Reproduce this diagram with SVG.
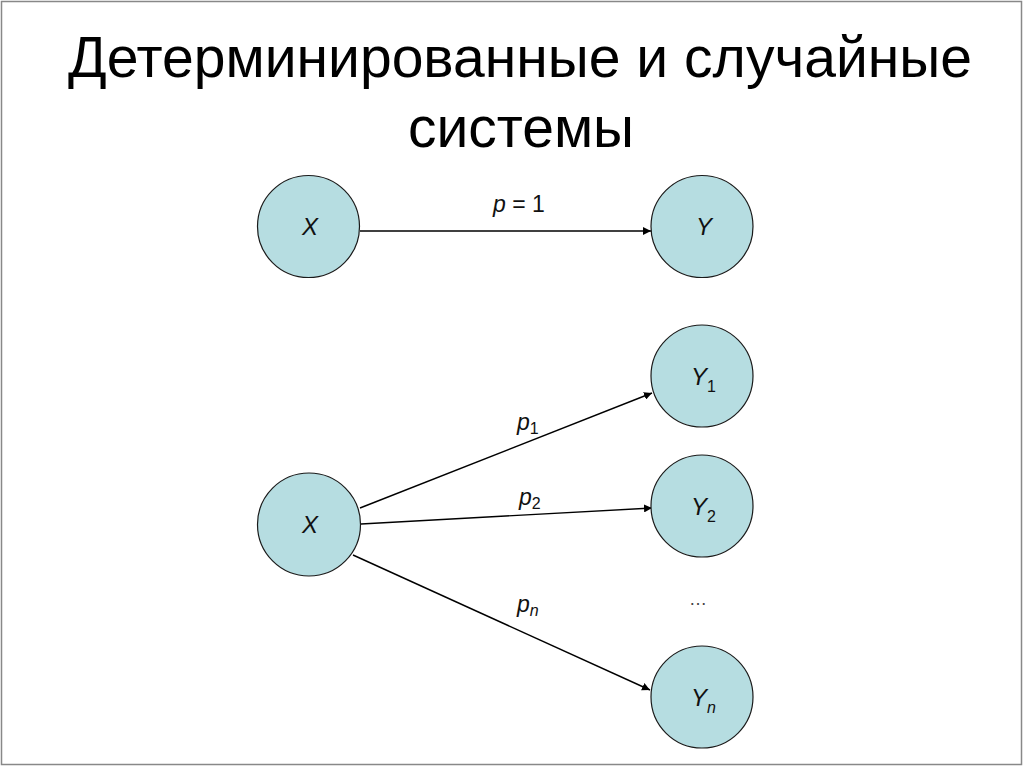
<svg xmlns="http://www.w3.org/2000/svg" width="1024" height="768" viewBox="0 0 1024 768">
<style>
.node{fill:#b6dde1;stroke:#1a1a1a;stroke-width:1.2}
.lbl{font-family:"Liberation Sans",Arial,sans-serif;font-style:italic;font-size:24px;fill:#111}
.sub{font-family:"Liberation Sans",Arial,sans-serif;font-size:16px;fill:#111}
.el{font-family:"Liberation Sans",Arial,sans-serif;font-size:23px;fill:#111}
.title{font-family:"Liberation Sans",Arial,sans-serif;font-size:57px;fill:#000}
.edge{stroke:#000;stroke-width:1.4;fill:none;marker-end:url(#ah)}
</style>
<defs>
<marker id="ah" viewBox="0 0 10 10" refX="10" refY="5" markerWidth="8" markerHeight="8" markerUnits="userSpaceOnUse" orient="auto">
<path d="M0,0 L10,5 L0,10 z" fill="#000"/>
</marker>
</defs>
<rect x="0" y="0" width="1024" height="768" fill="#fff"/>
<rect x="1.5" y="1.5" width="1020" height="763" fill="none" stroke="#888" stroke-width="1.5"/>
<g id="title">
<text class="title" x="68" y="77" textLength="904" lengthAdjust="spacingAndGlyphs">Детерминированные и случайные</text>
<text class="title" x="521" y="147" text-anchor="middle">системы</text>
</g>
<g id="connectors">
<line class="edge" x1="360" y1="231" x2="651" y2="231"/>
<line class="edge" x1="360" y1="508" x2="652" y2="393"/>
<line class="edge" x1="361" y1="524" x2="652" y2="508"/>
<line class="edge" x1="353" y1="555" x2="650" y2="690"/>
<text class="el" x="493" y="212"><tspan font-style="italic">p</tspan> = 1</text>
<text class="el" x="517" y="430"><tspan font-style="italic">p</tspan><tspan class="sub" dy="4">1</tspan></text>
<text class="el" x="519" y="505"><tspan font-style="italic">p</tspan><tspan class="sub" dy="4">2</tspan></text>
<text class="el" x="517" y="612"><tspan font-style="italic">p</tspan><tspan class="sub" font-style="italic" dy="4">n</tspan></text>
<text x="698" y="605" text-anchor="middle" font-family="Liberation Sans,Arial,sans-serif" font-size="18" fill="#444">…</text>
</g>
<g id="node-x-top">
<circle class="node" cx="308.5" cy="226.5" r="51"/>
<text class="lbl" x="310" y="235" text-anchor="middle">X</text>
</g>
<g id="node-y-top">
<circle class="node" cx="702" cy="226.5" r="51"/>
<text class="lbl" x="704" y="235" text-anchor="middle">Y</text>
</g>
<g id="node-x-bottom">
<circle class="node" cx="309" cy="524.5" r="51.5"/>
<text class="lbl" x="310" y="533" text-anchor="middle">X</text>
</g>
<g id="node-y1">
<circle class="node" cx="702" cy="376" r="51"/>
<text class="lbl" x="691" y="385">Y<tspan class="sub" font-style="normal" dy="7">1</tspan></text>
</g>
<g id="node-y2">
<circle class="node" cx="702" cy="506" r="51"/>
<text class="lbl" x="691" y="515">Y<tspan class="sub" font-style="normal" dy="7">2</tspan></text>
</g>
<g id="node-yn">
<circle class="node" cx="702" cy="697" r="51"/>
<text class="lbl" x="691" y="706">Y<tspan class="sub" dy="7">n</tspan></text>
</g>
</svg>
